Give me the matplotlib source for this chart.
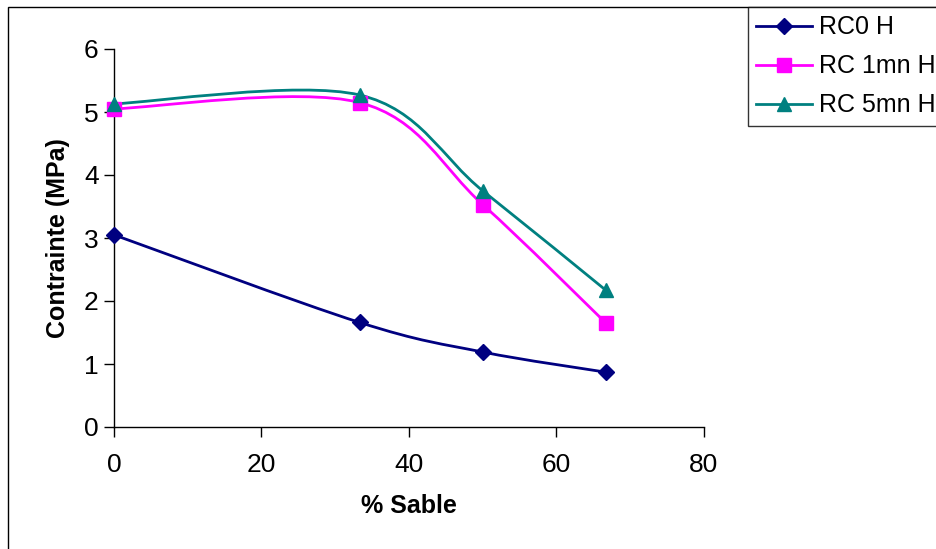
import matplotlib
matplotlib.use("Agg")
import matplotlib.pyplot as plt
from matplotlib.path import Path
from matplotlib.patches import PathPatch, Rectangle
from matplotlib.lines import Line2D
import numpy as np

plt.rcParams['font.family'] = ['Liberation Sans', 'DejaVu Sans']

x_sable = [0, 33.3, 50, 66.7]
rc0 = [3.05, 1.66, 1.19, 0.87]
rc1 = [5.05, 5.15, 3.53, 1.65]
rc5 = [5.13, 5.27, 3.75, 2.17]
series_names = ["RC0 H", "RC 1mn H", "RC 5mn H"]
colors = ["#000080", "#FF00FF", "#008080"]
markers = ["D", "s", "^"]
msizes = [8.5, 9.5, 10.5]

W, H = 937, 549
fig = plt.figure(figsize=(W/100, H/100), dpi=100)
ax = fig.add_axes([114/W, 1-427/H, (704-114)/W, (427-49)/H])


def smooth_path(xs, ys):
    pts = np.column_stack([xs, ys]).astype(float)
    n = len(pts)
    verts = [pts[0]]
    codes = [Path.MOVETO]
    for i in range(n-1):
        p0 = pts[i-1] if i > 0 else pts[i]
        p1 = pts[i]
        p2 = pts[i+1]
        p3 = pts[i+2] if i+2 < n else pts[i+1]
        c1 = p1 + (p2 - p0)/6.0
        c2 = p2 - (p3 - p1)/6.0
        verts += [c1, c2, p2]
        codes += [Path.CURVE4]*3
    return Path(verts, codes)

handles = []
for ys, name, c, m, ms in zip([rc0, rc1, rc5], series_names, colors, markers, msizes):
    patch = PathPatch(smooth_path(x_sable, ys), facecolor='none', edgecolor=c, lw=2, zorder=2)
    ax.add_patch(patch)
    ax.plot(x_sable, ys, linestyle='none', marker=m, color=c, ms=ms, zorder=3, clip_on=False)
    handles.append(Line2D([], [], color=c, lw=2, marker=m, ms=ms, label=name))

ax.set_xlim(0, 80)
ax.set_ylim(0, 6)
ax.set_xticks([0, 20, 40, 60, 80])
ax.set_yticks([0, 1, 2, 3, 4, 5, 6])
ax.spines['top'].set_visible(False)
ax.spines['right'].set_visible(False)
for s in ['left', 'bottom']:
    ax.spines[s].set_linewidth(1)
ax.tick_params(direction='out', length=7, width=1, labelsize=19)
ax.tick_params(axis='x', pad=12)
ax.tick_params(axis='y', pad=4)
ax.set_xlabel("% Sable", fontsize=18, fontweight='bold', labelpad=12)
ax.set_ylabel("Contrainte (MPa)", fontsize=18, fontweight='bold', labelpad=10)

# figure border
fig.patches.append(Rectangle((8/W, -0.01), 1.0, 1-7/H+0.01, transform=fig.transFigure,
                             fill=False, edgecolor='black', lw=1))

leg = fig.legend(handles=handles, loc='upper left', bbox_to_anchor=(748/W, 1-7/H),
                 fontsize=18, frameon=True, fancybox=False, edgecolor='black',
                 handlelength=2.25, borderaxespad=0, labelspacing=0.6, handletextpad=0.25,
                 borderpad=0.33)
leg.get_frame().set_linewidth(1)

fig.savefig("out.png", dpi=100)
